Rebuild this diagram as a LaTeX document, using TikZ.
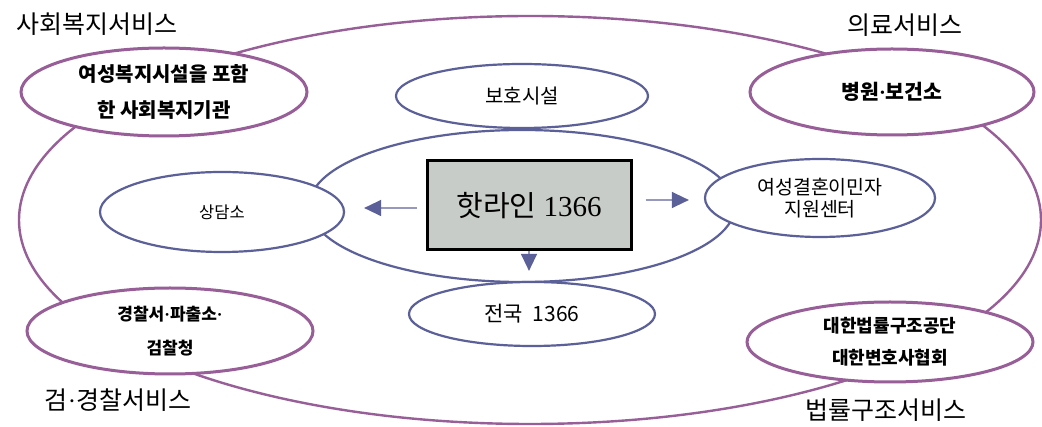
\documentclass[tikz,border=0pt]{standalone}
\usepackage{fontspec}
\setmainfont{Liberation Serif}
\newfontfamily\kr{Noto Sans CJK KR}
\newcommand\mdot{{\rmfamily\bfseries ·}}
\usetikzlibrary{shapes.geometric,arrows.meta}
\definecolor{purp}{RGB}{152,94,152}
\definecolor{navy}{RGB}{92,96,152}
\definecolor{shaft}{RGB}{150,152,190}
\definecolor{boxgray}{RGB}{200,204,200}
\begin{document}
\begin{tikzpicture}[x=1pt,y=-1pt,
 outer/.style={draw=purp,line width=2.4pt},
 pell/.style={ellipse,draw=purp,line width=3pt,fill=white,inner sep=0pt,align=center},
 bell/.style={ellipse,draw=navy,line width=2.2pt,fill=white,inner sep=0pt,align=center},
 svc/.style={font=\kr\fontsize{25}{30}\selectfont,inner sep=2pt},
 arr/.style={draw=shaft,line width=1.3pt,-{Triangle[length=17pt,width=16pt,color=navy]}}
]
\useasboundingbox (0,0) rectangle (1042,427);
\fill[white] (0,0) rectangle (1042,427);
% outer service ring
\node[ellipse,outer,minimum width=1022pt,minimum height=408pt,inner sep=0pt] (ring) at (530,220) {};
% inner hotline ring
\node[ellipse,draw=navy,line width=2.2pt,minimum width=426pt,minimum height=152pt,inner sep=0pt] (inner) at (522,206) {};
% blue ellipses
\node[bell,minimum width=252pt,minimum height=64pt,font=\kr\fontsize{20}{24}\selectfont] (boho) at (522,96) {보호시설};
\node[bell,minimum width=244pt,minimum height=80pt,font=\kr\fontsize{16.5}{20}\selectfont] (sangdam) at (222,212) {상담소};
\node[bell,minimum width=230pt,minimum height=78pt,font=\kr\fontsize{19.5}{22}\selectfont] (yeo) at (820,198) {여성결혼이민자\\지원센터};
\node[bell,minimum width=246pt,minimum height=64pt,font=\kr\fontsize{21}{24}\selectfont] (jeon) at (532,314) {전국\ \ 1366};
% purple ellipses
\node[pell,minimum width=286pt,minimum height=88pt,font=\kr\bfseries\fontsize{20}{36}\selectfont] (swel) at (164,92) {여성복지시설을 포함\\한 사회복지기관};
\node[pell,minimum width=284pt,minimum height=86pt,font=\kr\bfseries\fontsize{20.5}{24}\selectfont] (hosp) at (892,92) {병원\mdot 보건소};
\node[pell,minimum width=286pt,minimum height=86pt,font=\kr\bfseries\fontsize{17}{34}\selectfont] (police) at (170,331) {경찰서\mdot 파출소\mdot\\검찰청};
\node[pell,minimum width=286pt,minimum height=80pt,font=\kr\bfseries\fontsize{18}{32}\selectfont] (legal) at (890,342) {대한법률구조공단\\대한변호사협회};
% hotline box
\node[draw=black,line width=3pt,fill=boxgray,minimum width=204pt,minimum height=89pt,inner sep=0pt,font=\fontsize{29}{34}\selectfont] (hot) at (529,205.5) {{\kr 핫라인}\ 1366};
% arrows
\draw[arr,shorten <=9pt,shorten >=19pt] ([yshift=-2.5pt]hot.west) -- ([yshift=-2.5pt]hot.west -| sangdam.east);
\draw[arr,shorten <=13pt,shorten >=15pt] ([yshift=5.5pt]hot.east) -- ([yshift=5.5pt]hot.east -| yeo.west);
\draw[arr,shorten >=10pt] (hot.south) -- (hot.south |- jeon.north);
% service labels
\node[svc] (l1) at (97,24) {사회복지서비스};
\node[svc] (l2) at (905,25) {의료서비스};
\node[svc] (l3) at (118,400) {검{\rmfamily ·}경찰서비스};
\node[svc,fill=white,inner sep=5pt] (l4) at (886,410) {법률구조서비스};
\end{tikzpicture}
\end{document}
